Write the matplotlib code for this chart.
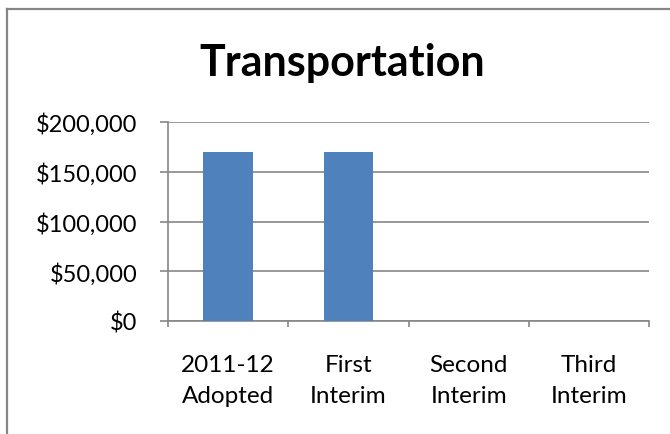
import numpy as np
import matplotlib
matplotlib.use("Agg")
import matplotlib.pyplot as plt
from matplotlib.lines import Line2D
from matplotlib.ticker import FuncFormatter

categories = ["2011-12\nAdopted", "First\nInterim", "Second\nInterim", "Third\nInterim"]
values = [170000, 170000, 0, 0]
y_ticks = [0, 50000, 100000, 150000, 200000]

BAR = "#4F81BD"
GRAY = "#868686"

plt.rcParams["font.family"] = ["Lato", "DejaVu Sans"]

fig = plt.figure(figsize=(6.7, 4.35), dpi=100)
ax = fig.add_axes([168 / 670, 1 - 322 / 435, (649 - 168) / 670, (322 - 123) / 435])

x = np.arange(len(categories)) + 0.5
ax.bar(x, values, width=0.41, color=BAR, zorder=3)

ax.set_xlim(0, len(categories))
ax.set_ylim(0, 200000)
ax.set_yticks(y_ticks)
ax.yaxis.set_major_formatter(FuncFormatter(lambda v, p: f"${v:,.0f}"))
ax.grid(axis="y", color=GRAY, linewidth=1.2, zorder=0)

ax.set_xticks(np.arange(len(categories) + 1))
ax.set_xticklabels([])
ax.set_xticks(x, minor=True)
ax.set_xticklabels(categories, minor=True, fontsize=17.5, linespacing=1.55)
ax.tick_params(axis="x", which="minor", length=0, pad=24)
ax.tick_params(axis="x", which="major", length=4.3, width=1.2, color=GRAY, direction="out")
ax.tick_params(axis="y", length=5.8, width=1.2, color=GRAY, labelsize=17, pad=16)

for s in ("top", "right"):
    ax.spines[s].set_visible(False)
for s in ("left", "bottom"):
    ax.spines[s].set_color(GRAY)
    ax.spines[s].set_linewidth(1.2)

fig.text(342.5 / 670, 1 - 76 / 435, "Transportation", ha="center", va="baseline",
         fontsize=31, fontweight="bold")

# chart-area border (only left and top visible in the crop)
fig.add_artist(Line2D([6.5 / 670, 6.5 / 670], [0, 1 - 9.5 / 435], transform=fig.transFigure,
                      color=GRAY, linewidth=1.6))
fig.add_artist(Line2D([6.5 / 670, 1], [1 - 9.5 / 435, 1 - 9.5 / 435], transform=fig.transFigure,
                      color=GRAY, linewidth=1.6))

fig.savefig("out.png", dpi=100)
